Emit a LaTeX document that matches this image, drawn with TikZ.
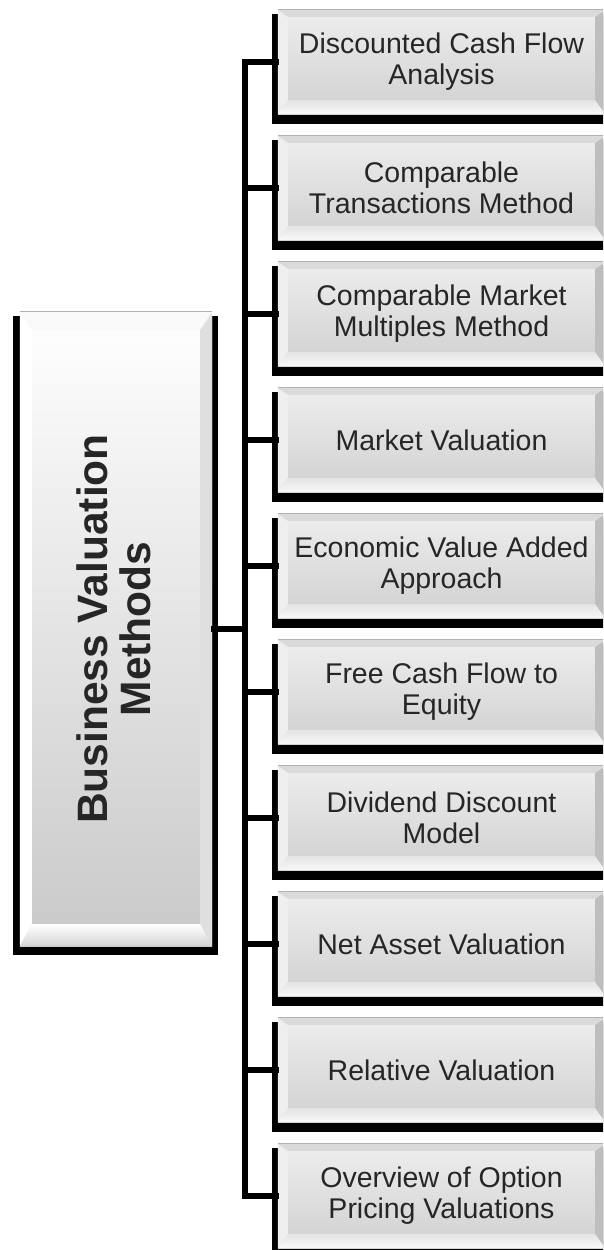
\documentclass[tikz,border=0pt]{standalone}
\usepackage{fontspec}
\setmainfont{Liberation Sans}
\definecolor{txt}{HTML}{262626}
\definecolor{facetop}{HTML}{EEEEEE}
\definecolor{facebot}{HTML}{D0D0D0}
\definecolor{bvtop}{HTML}{DADADA}
\definecolor{bvleft}{HTML}{EFEFEF}
\definecolor{bvright}{HTML}{BEBEBE}
\definecolor{bvbota}{HTML}{E4E4E4}
\definecolor{bvbotb}{HTML}{F8F8F8}
\definecolor{mtop}{HTML}{FFFFFF}
\definecolor{mbot}{HTML}{C9C9C9}
\tikzset{
  conn/.style={line width=6pt, black},
  shadowbox/.style={fill=black},
  childface/.style={minimum width=327pt, minimum height=104pt, inner sep=0pt,
    top color=facetop, bottom color=facebot, draw=none,
    font=\fontsize{28.5}{31}\selectfont, text=txt, align=center},
  mainface/.style={minimum width=192pt, minimum height=634pt, inner sep=0pt,
    top color=mtop, bottom color=mbot, draw=none},
  maintext/.style={rotate=90, font=\bfseries\fontsize{42.5}{43}\selectfont, text=txt, align=center},
  edgeline/.style={draw=gray!60, line width=1pt}
}
\newcommand\bevelset[9]{%
  % #1 node, #2 left, #3 top, #4 right, #5 bottom, #6 top col, #7 left col, #8 right col, #9 bottom shading
  \fill[#7] (#1.north west) -- ([shift={(#2,#3)}]#1.north west) -- ([shift={(#2,-#5)}]#1.south west) -- (#1.south west) -- cycle;
  \fill[#8] (#1.north east) -- ([shift={(-#4,#3)}]#1.north east) -- ([shift={(-#4,-#5)}]#1.south east) -- (#1.south east) -- cycle;
  \fill[#6] (#1.north west) -- (#1.north east) -- ([shift={(-#4,#3)}]#1.north east) -- ([shift={(#2,#3)}]#1.north west) -- cycle;
  \path[#9] (#1.south west) -- (#1.south east) -- ([shift={(-#4,-#5)}]#1.south east) -- ([shift={(#2,-#5)}]#1.south west) -- cycle;
  \draw[edgeline] (#1.north west) -- (#1.north east);
}
\newcommand\childbox[3]{%
  \fill[shadowbox] (272,#2+4) rectangle (610,#2+114);
  \node[childface] (#1) at (441.5,#2+52) {#3};
  \bevelset{#1}{10}{7}{10}{14}{bvtop}{bvleft}{bvright}{top color=bvbota,bottom color=bvbotb}
}
\begin{document}
\begin{tikzpicture}[x=1pt,y=-1pt]
\useasboundingbox[fill=white] (0,0) rectangle (603,1250);
\clip (0,0) rectangle (603,1250);
% main box
\fill[shadowbox] (13,316) rectangle (218,955);
\node[mainface] (main) at (116,629) {};
\bevelset{main}{12}{18}{12}{22}{mtop!95!gray}{white}{mbot!60!white}{top color=white,bottom color=mbot!80!white}
\node[maintext] (mtext) at ([xshift=-2pt]main.center) {Business Valuation\\Methods};
% children
\childbox{c1}{10}{Discounted Cash Flow\\Analysis}
\childbox{c2}{136}{Comparable\\Transactions Method}
\childbox{c3}{262}{Comparable Market\\Multiples Method}
\childbox{c4}{388}{Market Valuation}
\childbox{c5}{514}{Economic Value Added\\Approach}
\childbox{c6}{640}{Free Cash Flow to\\Equity}
\childbox{c7}{766}{Dividend Discount\\Model}
\childbox{c8}{892}{Net Asset Valuation}
\childbox{c9}{1018}{Relative Valuation}
\childbox{c10}{1144}{Overview of Option\\Pricing Valuations}
% connectors
\coordinate (trunk) at (245,0);
\draw[conn] ([xshift=1pt]c1.west) -- (c1.west -| trunk) -- (c10.west -| trunk) -- ([xshift=1pt]c10.west);
\foreach \n in {c2,c3,c4,c5,c6,c7,c8,c9}{
  \draw[conn] ([xshift=1pt]\n.west) -- (\n.west -| trunk);
}
\draw[conn] ([xshift=-1pt]main.east) -- (main.east -| trunk);
\end{tikzpicture}
\end{document}
